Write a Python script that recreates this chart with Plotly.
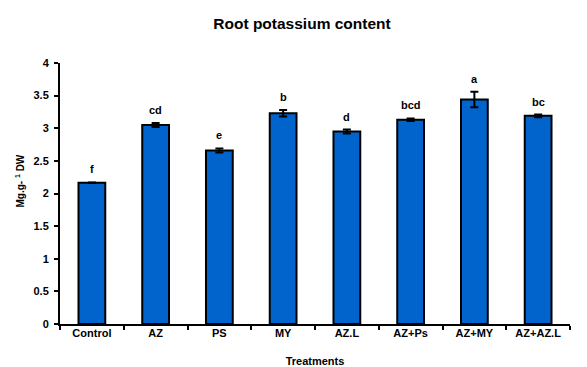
import plotly.graph_objects as go

categories = ["Control", "AZ", "PS", "MY", "AZ.L", "AZ+Ps", "AZ+MY", "AZ+AZ.L"]
values = [2.165, 3.05, 2.66, 3.23, 2.95, 3.13, 3.44, 3.19]
errors = [0.005, 0.03, 0.03, 0.05, 0.03, 0.02, 0.12, 0.02]
letters = ["f", "cd", "e", "b", "d", "bcd", "a", "bc"]
yticks = [0, 0.5, 1, 1.5, 2, 2.5, 3, 3.5, 4]

FONT = "Liberation Sans, Arial, sans-serif"
FS = 11
W, H = 579, 359  # page body has an 8px margin

fig = go.Figure()
fig.add_trace(go.Bar(
    x=categories, y=values, width=0.42,
    marker=dict(color="#0064CC", line=dict(color="black", width=2)),
    error_y=dict(type="data", array=errors, visible=True, color="black", thickness=2, width=4),
))

for c, v, e, l in zip(categories, values, errors, letters):
    fig.add_annotation(x=c, y=v + e, text="<b>%s</b>" % l, showarrow=False,
                       yanchor="bottom", yshift=5, font=dict(family=FONT, size=FS, color="black"))

# y-axis title placed as a rotated annotation
fig.add_annotation(xref="paper", yref="paper", x=0, y=0.546, xshift=-40,
                   text="<b>Mg.g- <sup>1</sup> DW</b>", textangle=-90, showarrow=False,
                   xanchor="center", yanchor="middle",
                   font=dict(family=FONT, size=10, color="black"))

fig.update_layout(
    width=W, height=H,
    margin=dict(l=52, r=17, t=55, b=43, autoexpand=False),
    paper_bgcolor="white", plot_bgcolor="white",
    showlegend=False,
    title=dict(text="<b>Root potassium content</b>", x=294 / W, xanchor="center",
               y=1 - 16 / H, yanchor="middle",
               font=dict(family=FONT, size=15.5, color="black")),
    font=dict(family=FONT, color="black"),
)
fig.update_xaxes(
    automargin=False,
    showline=True, linecolor="black", linewidth=2,
    ticks="outside", tickson="boundaries", ticklen=4, tickwidth=2, tickcolor="black",
    tickfont=dict(family=FONT, size=FS, color="black"),
    ticklabelstandoff=-2,
    tickprefix="<b>", ticksuffix="</b>",
    title=dict(text="<b>Treatments</b>", font=dict(family=FONT, size=FS, color="black"), standoff=21),
    showgrid=False,
)
fig.update_yaxes(
    automargin=False,
    range=[0, 4], tickvals=yticks, ticktext=["<b>%g</b>" % t for t in yticks],
    showline=True, linecolor="black", linewidth=2,
    ticks="outside", ticklen=4, tickwidth=2, tickcolor="black",
    tickfont=dict(family=FONT, size=FS, color="black"),
    ticklabelstandoff=3,
    showgrid=False, zeroline=False,
)

fig.write_html("out.html")
